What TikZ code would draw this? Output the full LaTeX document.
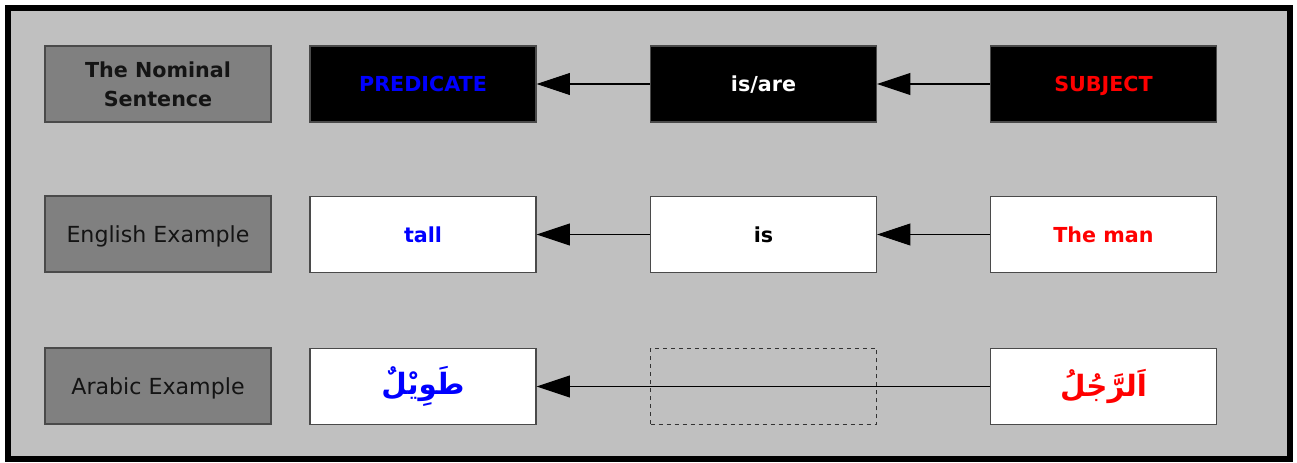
\documentclass[tikz,border=0pt]{standalone}
\usepackage{fontspec}
\setmainfont{DejaVu Sans}
\newfontfamily\arabicfont[Script=Arabic]{DejaVu Sans}
\TeXXeTstate=1
\usetikzlibrary{arrows.meta}
\definecolor{bggray}{HTML}{C0C0C0}
\definecolor{labgray}{HTML}{808080}
\definecolor{boxedge}{HTML}{4A4A4A}
\tikzset{
  box/.style={draw=boxedge, line width=0.9pt, minimum width=169.5pt, minimum height=57pt, inner sep=0pt, align=center},
  labelbox/.style={box, fill=labgray, text=black!92, font=\fontsize{16.6}{19}\selectfont},
  labelline/.style={labelbox, text height=12.1pt, text depth=0pt},
  darkbox/.style={box, text height=11.3pt, text depth=0pt, fill=black, font=\fontsize{15.5}{18}\selectfont\bfseries},
  whitebox/.style={box, text height=11.3pt, text depth=0pt, fill=white, font=\fontsize{15.5}{18}\selectfont\bfseries},
  emptybox/.style={box, draw=black!80, dashed, line width=0.6pt},
  conn/.style={draw=black, line width=0.8pt, -{Triangle[length=25pt, width=16.5pt]}},
  arab/.style={box, fill=white, font=\fontsize{22}{24}\selectfont\arabicfont\bfseries}
}
\begin{document}
\begin{tikzpicture}[x=0.75pt, y=-0.75pt]
\useasboundingbox (0,0) rectangle (1297,463);
\draw[fill=bggray, line width=4.5pt] (7.5,8) rectangle (1290,459.5);
% row 1
\node[labelbox, font=\fontsize{15.5}{22}\selectfont\bfseries] (l1) at (158,84) {The Nominal\\Sentence};
\node[darkbox, text=blue] (pred) at (423,84) {PREDICATE};
\node[darkbox, text=white] (cop) at (763.5,84) {is/are};
\node[darkbox, text=red] (subj) at (1103.5,84) {SUBJECT};
% row 2
\node[labelline] (l2) at (158,234) {English Example};
\node[whitebox, text=blue] (tall) at (423,234.5) {tall};
\node[whitebox, text=black] (is) at (763.5,234.5) {is};
\node[whitebox, text=red] (man) at (1103.5,234.5) {The man};
% row 3
\node[labelline] (l3) at (158,386) {Arabic Example};
\node[arab, text=blue] (tawil) at (423,386.5) {\beginR طَوِيْلٌ\endR};
\node[emptybox] (empty) at (763.5,386.5) {};
\node[arab, text=red] (rajul) at (1103.5,386.5) {\beginR اَلرَّجُلُ\endR};
% connectors
\draw[conn] (cop.west) -- (pred.east);
\draw[conn] (subj.west) -- (cop.east);
\draw[conn] (man.west) -- (is.east);
\draw[conn] (is.west) -- (tall.east);
\draw[conn] (rajul.west) -- (tawil.east);
\end{tikzpicture}
\end{document}
